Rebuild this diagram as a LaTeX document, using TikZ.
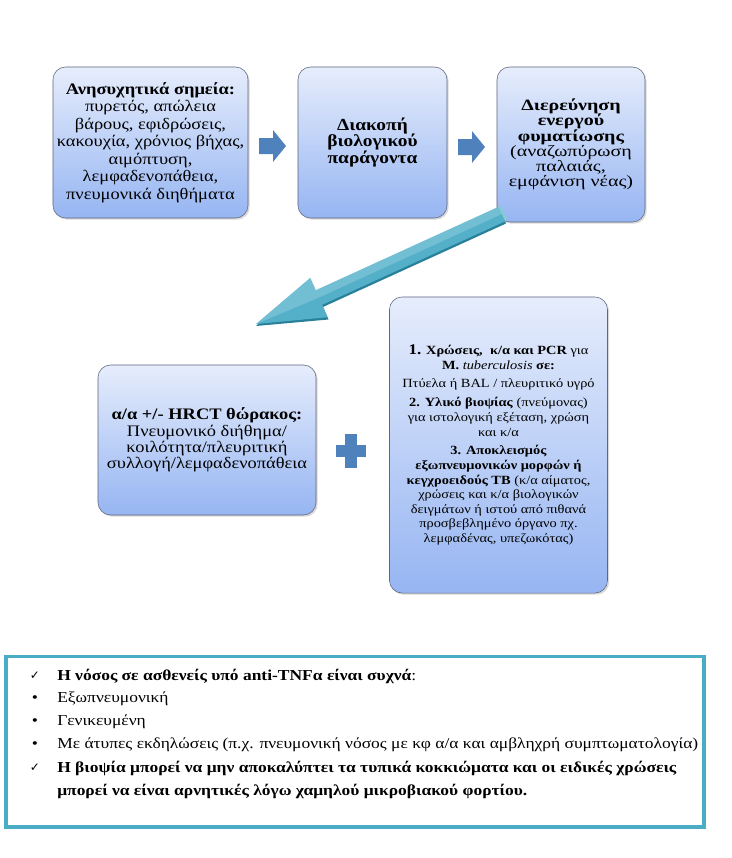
\documentclass[tikz,border=0pt]{standalone}
\usepackage{fontspec}
\setmainfont{Liberation Serif}
\newfontfamily\wideserif{Liberation Serif}[FakeStretch=1.15]
\newfontfamily\searchserif{Liberation Serif}[FakeStretch=1.27]
\newfontfamily\markfont{DejaVu Sans}
\newcommand\tightlines{\lineskiplimit=-5pt\relax}
\usetikzlibrary{calc,shadows}
\definecolor{boxtop}{RGB}{230,237,252}
\definecolor{boxbot}{RGB}{150,181,242}
\definecolor{boxedge}{RGB}{95,102,125}
\definecolor{arrowblue}{RGB}{79,129,189}
\definecolor{frameteal}{RGB}{75,172,198}
\definecolor{tealdark}{RGB}{40,128,155}
\begin{document}
\begin{tikzpicture}[x=0.025cm,y=-0.025cm,
  box/.style={draw=boxedge,thin,rounded corners=9pt,top color=boxtop,bottom color=boxbot,align=center,inner sep=2pt,
    drop shadow={opacity=0.3,shadow xshift=1.2pt,shadow yshift=-1.2pt}},
  signtext/.style={font=\wideserif\fontsize{11.4}{12.4}\selectfont},
  stoptext/.style={font=\wideserif\fontsize{12}{11.6}\selectfont\tightlines},
  searchtext/.style={font=\searchserif\fontsize{11.2}{10.8}\selectfont\tightlines},
  cttext/.style={font=\wideserif\fontsize{11.4}{11.6}\selectfont},
  testtext/.style={font=\wideserif\fontsize{8.9}{10.4}\selectfont},
  listline/.style={anchor=west,inner sep=0pt,font=\wideserif\fontsize{10.8}{13}\selectfont},
  listmark/.style={inner sep=0pt,font=\wideserif\fontsize{10.8}{13}\selectfont},
  checkmark/.style={inner sep=0pt,font=\markfont\fontsize{8.5}{10}\selectfont}]
\useasboundingbox (0,0) rectangle (732,858);
\node[box,signtext,minimum width=4.875cm,minimum height=3.775cm] (signs) at (150.5,142.5)
  {\textbf{Ανησυχητικά σημεία:}\\ πυρετός, απώλεια\\ βάρους, εφιδρώσεις,\\ κακουχία, χρόνιος βήχας,\\ αιμόπτυση,\\ λεμφαδενοπάθεια,\\ πνευμονικά διηθήματα};
\node[box,stoptext,minimum width=3.725cm,minimum height=3.775cm] (stop) at (372.5,142.5)
  {\textbf{Διακοπή}\\ \textbf{βιολογικού}\\ \textbf{παράγοντα}};
\node[box,searchtext,minimum width=3.7cm,minimum height=3.875cm] (search) at (571,144.5)
  {\textbf{Διερεύνηση}\\ \textbf{ενεργού}\\ \textbf{φυματίωσης}\\ (αναζωπύρωση\\ παλαιάς,\\ εμφάνιση νέας)};
\node[box,cttext,minimum width=5.45cm,minimum height=3.75cm] (ct) at (207,440)
  {\textbf{α/α +/- HRCT θώρακος:}\\ Πνευμονικό διήθημα/\\ κοιλότητα/πλευριτική\\ συλλογή/λεμφαδενοπάθεια};
\node[box,testtext,minimum width=5.45cm,minimum height=7.4cm] (tests) at (498.5,445)
  {{\fontsize{10.5}{11}\selectfont\textbf{1.}} \textbf{Χρώσεις,\ \ κ/α και PCR} για\\ \textbf{M.} \textit{tuberculosis} \textbf{σε:}\\[3pt]
   Πτύελα ή BAL / πλευριτικό υγρό\\[3pt]
   \textbf{2. Υλικό βιοψίας} (πνεύμονας)\\ για ιστολογική εξέταση, χρώση\\ και κ/α\\[3pt]
   \textbf{3. Αποκλεισμός}\\ \textbf{εξωπνευμονικών μορφών ή}\\ \textbf{κεγχροειδούς TB} (κ/α αίματος,\\ χρώσεις και κ/α βιολογικών\\ δειγμάτων ή ιστού από πιθανά\\ προσβεβλημένο όργανο πχ.\\ λεμφαδένας, υπεζωκότας)};
\fill[arrowblue] ($(signs.east)!0.5!(stop.west)$) ++(-14,-4.5) -- ++(14,0) -- ++(0,-8) -- ++(13,16) -- ++(-13,16) -- ++(0,-8) -- ++(-14,0) -- cycle;
\fill[arrowblue] ($(stop.east)!0.5!(search.west)$) ++(-14,-4.5) -- ++(14,0) -- ++(0,-8) -- ++(13,16) -- ++(-13,16) -- ++(0,-8) -- ++(-14,0) -- cycle;
\fill[tealdark] (499,209) -- (316,292.5) -- (310.5,280) -- (256,326) -- (328.5,319.5) -- (323,307) -- (506,223.5) -- cycle;
\fill[frameteal!95!white] (498.8,206.7) -- (315.8,290.2) -- (310.3,277.8) -- (256,324) -- (327.7,317.2) -- (322.2,304.8) -- (505.2,221.3) -- cycle;
\fill[white,opacity=0.18] (498.8,206.7) -- (315.8,290.2) -- (310.3,277.8) -- (256,324) -- (319,297.5) -- (502,214) -- cycle;
\fill[frameteal!65!white] (498.8,206.7) -- (505.2,221.3) -- (508,220) -- (501.6,205.4) -- cycle;
\fill[arrowblue] ($(ct.east)!0.5!(tests.west)+(-2,8)$) ++(-15,-6) rectangle ++(30,12);
\fill[arrowblue] ($(ct.east)!0.5!(tests.west)+(-2,8)$) ++(-6,-17) rectangle ++(12,34);
\node[draw=frameteal,line width=2.8pt,minimum width=17.425cm,minimum height=4.25cm] (notes) at (355,741.5) {};
\node[checkmark] (m1) at (35,676) {✓};
\node[listline] (l1) at (57,676) {\textbf{Η νόσος σε ασθενείς υπό anti-TNFα είναι συχνά}:};
\node[listmark] (m2) at (35,699) {•};
\node[listline] (l2) at (57,699) {Εξωπνευμονική};
\node[listmark] (m3) at (35,722) {•};
\node[listline] (l3) at (57,722) {Γενικευμένη};
\node[listmark] (m4) at (35,745) {•};
\node[listline] (l4) at (57,745) {Με άτυπες εκδηλώσεις (π.χ. πνευμονική νόσος με κφ α/α και αμβληχρή συμπτωματολογία)};
\node[checkmark] (m5) at (35,768) {✓};
\node[listline] (l5) at (57,768) {\textbf{Η βιοψία μπορεί να μην αποκαλύπτει τα τυπικά κοκκιώματα και οι ειδικές χρώσεις}};
\node[listline] (l6) at (57,791) {\textbf{μπορεί να είναι αρνητικές λόγω χαμηλού μικροβιακού φορτίου.}};
\end{tikzpicture}
\end{document}
